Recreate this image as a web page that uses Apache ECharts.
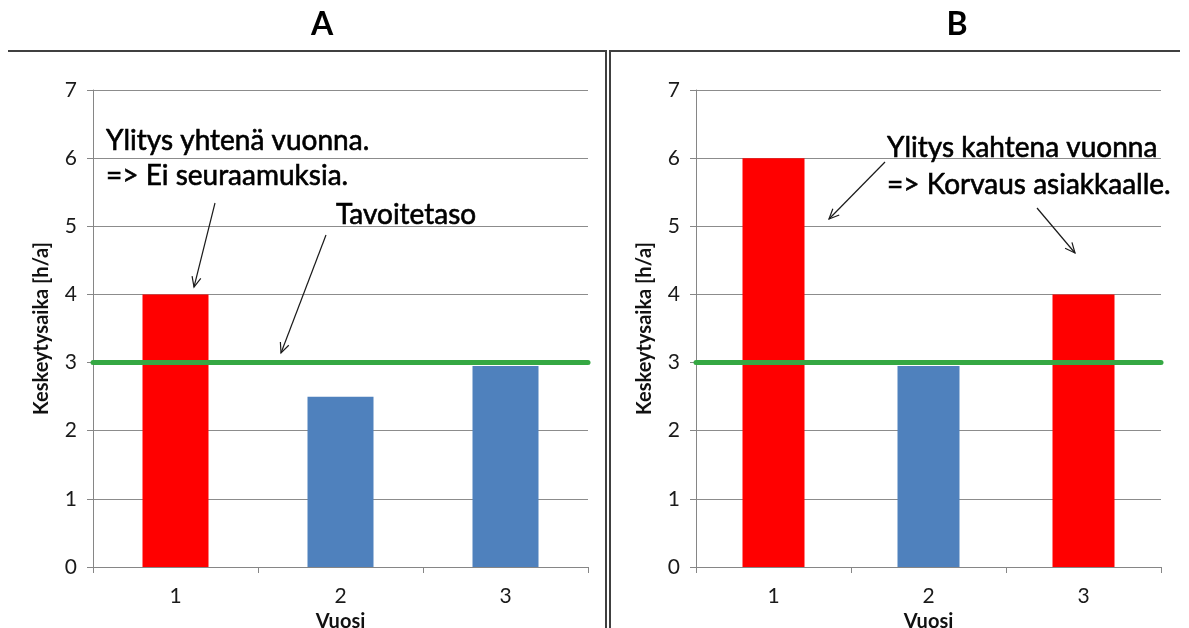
<!DOCTYPE html>
<html>
<head>
<meta charset="utf-8">
<script src="https://cdn.jsdelivr.net/npm/echarts@6/dist/echarts.min.js"></script>
<style>
  html, body { margin: 0; padding: 0; background: #ffffff; }
  #chart { width: 1189px; height: 628px; }
</style>
</head>
<body>
<div id="chart"></div>
<script>
// Vuodet (luokka-akseli)
const categories = ['1', '2', '3'];
// Keskeytysaika [h/a] vuosittain, tapaukset A ja B
const valuesA = [4, 2.5, 2.95];
const valuesB = [6, 2.95, 4];
// Tavoitetaso
const target = 3;
// Y-akselin asteikko
const yMin = 0;
const yMax = 7;
const yStep = 1;

const panelTitles = ['A', 'B'];
const xName = 'Vuosi';
const yName = 'Keskeytysaika [h/a]';

const FONT = 'Lato';
const RED = '#ff0000';
const BLUE = '#4f81bd';
const GREEN = '#35a843';
const AXIS_GREY = '#868686';

function barData(values) {
  return values.map(v => ({
    value: v,
    itemStyle: { color: v > target ? RED : BLUE }
  }));
}

function xAxisFor(i) {
  return {
    type: 'category',
    gridIndex: i,
    data: categories,
    axisLine: { lineStyle: { color: AXIS_GREY, width: 1 } },
    axisTick: { show: true, length: 6, lineStyle: { color: AXIS_GREY } },
    axisLabel: { fontFamily: FONT, fontSize: 21, color: '#1a1a1a', margin: 19 },
    name: xName,
    nameLocation: 'middle',
    nameGap: 41,
    nameTextStyle: { fontFamily: FONT, fontSize: 20, fontWeight: 'bold', color: '#111' }
  };
}

function yAxisFor(i) {
  return {
    type: 'value',
    gridIndex: i,
    min: yMin,
    max: yMax,
    interval: yStep,
    axisLine: { show: true, lineStyle: { color: AXIS_GREY, width: 1 } },
    axisTick: { show: true, length: 6, lineStyle: { color: AXIS_GREY } },
    splitLine: { show: true, lineStyle: { color: '#8c8c8c', width: 1 } },
    axisLabel: { fontFamily: FONT, fontSize: 21, color: '#1a1a1a', margin: 16 },
    name: yName,
    nameLocation: 'middle',
    nameGap: 41,
    nameRotate: 90,
    nameTextStyle: { fontFamily: FONT, fontSize: 20, fontWeight: 'bold', color: '#111' }
  };
}

function targetSeries(i) {
  return {
    type: 'line',
    xAxisIndex: i,
    yAxisIndex: i,
    data: [],
    z: 1,
    silent: true,
    markLine: {
      silent: true,
      symbol: 'none',
      label: { show: false },
      lineStyle: { color: GREEN, width: 5, type: 'solid', cap: 'round' },
      data: [{ yAxis: target }]
    }
  };
}

function barSeries(i, values) {
  return {
    type: 'bar',
    xAxisIndex: i,
    yAxisIndex: i,
    data: barData(values),
    barWidth: '40%',
    z: 3,
    silent: true
  };
}

// Nuoli: viiva ja avoin kärki
function arrow(x1, y1, x2, y2) {
  const ang = Math.atan2(y2 - y1, x2 - x1);
  const len = 11, spread = 0.42;
  const p1 = [x2 - len * Math.cos(ang - spread), y2 - len * Math.sin(ang - spread)];
  const p2 = [x2 - len * Math.cos(ang + spread), y2 - len * Math.sin(ang + spread)];
  return [
    { type: 'line', shape: { x1, y1, x2, y2 }, style: { stroke: '#1a1a1a', lineWidth: 1.2 }, z: 10 },
    { type: 'polyline', shape: { points: [p1, [x2, y2], p2] }, style: { stroke: '#1a1a1a', lineWidth: 1.2, fill: null }, z: 10 }
  ];
}

function note(text, x, y) {
  return {
    type: 'text', x, y, z: 10,
    style: {
      text, fontFamily: FONT, fontSize: 28, fill: '#000',
      stroke: '#000', lineWidth: 0.6,
      textAlign: 'left', textVerticalAlign: 'bottom'
    }
  };
}

const frameStyle = { stroke: '#404040', lineWidth: 2, fill: null };

const graphics = [
  // Paneelien kehykset
  { type: 'polyline', shape: { points: [[8, 51], [606, 51], [606, 628]] }, style: frameStyle },
  { type: 'polyline', shape: { points: [[610, 628], [610, 51], [1180, 51]] }, style: frameStyle },
  // Paneelien otsikot
  { type: 'text', x: 322, y: 25, style: { text: panelTitles[0], fontFamily: FONT, fontSize: 32, fontWeight: 'bold', fill: '#000', textAlign: 'center', textVerticalAlign: 'middle' } },
  { type: 'text', x: 957, y: 25, style: { text: panelTitles[1], fontFamily: FONT, fontSize: 32, fontWeight: 'bold', fill: '#000', textAlign: 'center', textVerticalAlign: 'middle' } },
  // Selitteet, A
  note('Ylitys yhtenä vuonna.', 106, 155),
  note('=> Ei seuraamuksia.', 106, 190),
  note('Tavoitetaso', 336, 229),
  ...arrow(215, 203, 194, 287),
  ...arrow(326, 235, 281, 353),
  // Selitteet, B
  note('Ylitys kahtena vuonna', 887, 162),
  note('=> Korvaus asiakkaalle.', 887, 199),
  ...arrow(885, 162, 829, 219),
  ...arrow(1037, 208, 1075, 253)
];

const option = {
  backgroundColor: '#ffffff',
  animation: false,
  grid: [
    { left: 93, top: 90, width: 495, height: 477, outerBoundsMode: 'none', containLabel: false },
    { left: 696, top: 90, width: 465, height: 477, outerBoundsMode: 'none', containLabel: false }
  ],
  xAxis: [xAxisFor(0), xAxisFor(1)],
  yAxis: [yAxisFor(0), yAxisFor(1)],
  series: [
    targetSeries(0),
    barSeries(0, valuesA),
    targetSeries(1),
    barSeries(1, valuesB)
  ],
  graphic: graphics
};

const chart = echarts.init(document.getElementById('chart'), null, { renderer: 'canvas' });
chart.setOption(option);
</script>
</body>
</html>
